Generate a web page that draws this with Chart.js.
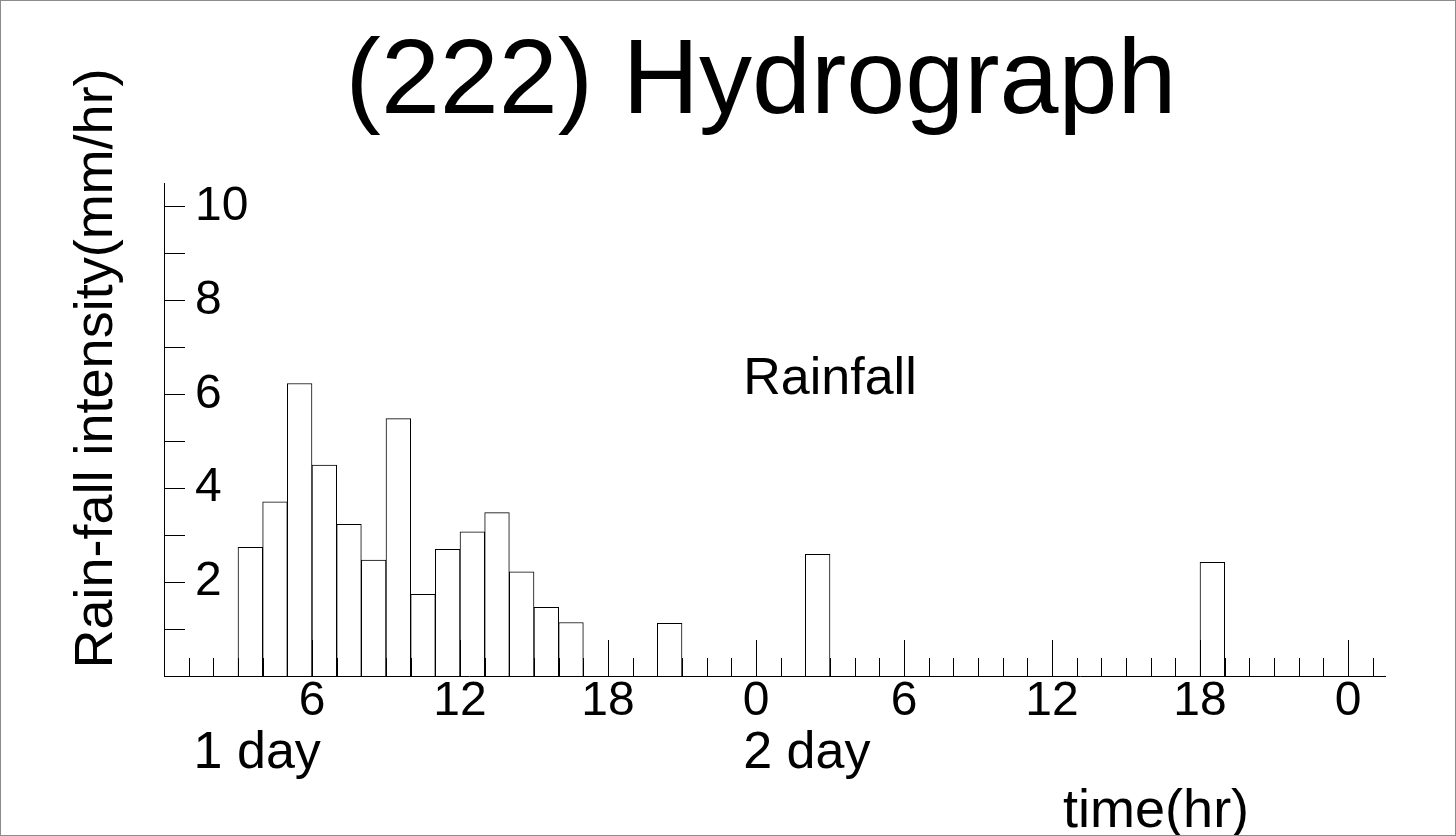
<!DOCTYPE html>
<html>
<head>
<meta charset="utf-8">
<title>(222) Hydrograph</title>
<script src="https://cdn.jsdelivr.net/npm/chart.js@4/dist/chart.umd.min.js"></script>
<style>
    html, body { margin: 0; padding: 0; background: #fff; }
    #wrap { width: 1456px; height: 836px; border: 1px solid #8c8c8c; box-sizing: border-box; }
</style>
</head>
<body>
<div id="wrap"><canvas id="hydro"></canvas></div>
<script>
// hour (from 0h of day 1) at which each rain bar starts, and its intensity
const rainHours = [3, 4, 5, 6, 7, 8, 9, 10, 11, 12, 13, 14, 15, 16, 20, 26, 42];
const rainfall = [2.74, 3.71, 6.23, 4.49, 3.23, 2.47, 5.48, 1.74, 2.70, 3.07, 3.48, 2.22, 1.46, 1.14, 1.12, 2.59, 2.42];

// labels under the x axis every 6 hours (0h of day 1 has none)
const hourLabels = ['', '6', '12', '18', '0', '6', '12', '18', '0'];
const yTickLabels = ['', '2', '4', '6', '8', '10'];
const dayLabels = ['1 day', '2 day'];

const FONT = "'Liberation Sans', Arial, Helvetica, sans-serif";

// tick marks point into the plot and the loose texts sit round it
const marksPlugin = {
    id: 'marks',
    afterDraw(chart) {
        const { ctx, chartArea, scales: { x, y } } = chart;
        ctx.save();
        ctx.strokeStyle = '#000';
        ctx.lineWidth = 1;
        ctx.beginPath();
        for (let h = 1; h <= 49; h++) {
            const px = Math.round(x.getPixelForValue(h)) + 0.5;
            const len = h % 6 === 0 ? 36 : 18;
            ctx.moveTo(px, chartArea.bottom);
            ctx.lineTo(px, chartArea.bottom - len);
        }
        for (let v = 1; v <= 10; v++) {
            const py = Math.round(y.getPixelForValue(v)) + 0.5;
            ctx.moveTo(chartArea.left, py);
            ctx.lineTo(chartArea.left + 21, py);
        }
        ctx.stroke();

        ctx.fillStyle = '#000';
        ctx.textBaseline = 'alphabetic';

        // title
        ctx.font = '106px ' + FONT;
        ctx.textAlign = 'center';
        ctx.fillText('(222) Hydrograph', 760, 112);

        // series name inside the plot
        ctx.font = '52px ' + FONT;
        ctx.fillText('Rainfall', x.getPixelForValue(27), y.getPixelForValue(6));

        // day markers and axis title under the axis
        ctx.textAlign = 'left';
        ctx.fillText(dayLabels[0], x.getPixelForValue(1.2), chartArea.bottom + 92);
        ctx.fillText(dayLabels[1], x.getPixelForValue(23.48), chartArea.bottom + 92);
        ctx.font = '54px ' + FONT;
        ctx.fillText('time(hr)', x.getPixelForValue(36.45), chartArea.bottom + 151);

        // y axis title
        ctx.translate(111, y.getPixelForValue(6.55));
        ctx.rotate(-Math.PI / 2);
        ctx.textAlign = 'center';
        ctx.fillText('Rain-fall intensity(mm/hr)', 0, 0);
        ctx.restore();
    }
};

const ctx = document.getElementById('hydro').getContext('2d');
const hydroChart = new Chart(ctx, {
    type: 'bar',
    data: {
        datasets: [{
            label: 'Rainfall',
            data: rainHours.map((h, i) => ({ x: h + 0.5, y: rainfall[i] })),
            backgroundColor: '#fff',
            borderColor: '#000',
            borderWidth: 1,
            barPercentage: 1,
            categoryPercentage: 1
        }]
    },
    plugins: [marksPlugin],
    options: {
        responsive: true,
        maintainAspectRatio: false,
        animation: false,
        layout: { padding: { top: 182, right: 70, left: 0, bottom: 0 } },
        plugins: {
            legend: { display: false },
            title: { display: false },
            tooltip: { enabled: false }
        },
        scales: {
            x: {
                type: 'linear',
                min: 0,
                max: 49.5,
                offset: false,
                grid: { display: false },
                border: { display: true, color: '#000', width: 1 },
                ticks: {
                    stepSize: 6,
                    includeBounds: false,
                    autoSkip: false,
                    maxRotation: 0,
                    padding: -11,
                    color: '#000',
                    font: { family: FONT, size: 48 },
                    callback: (v, i) => hourLabels[i] ?? ''
                },
                afterFit: (scale) => { scale.height = 159; }
            },
            y: {
                min: 0,
                max: 10.5,
                grid: { display: false, drawTicks: false },
                border: { display: true, color: '#000', width: 1 },
                ticks: {
                    stepSize: 2,
                    includeBounds: false,
                    mirror: true,
                    padding: 31,
                    color: '#000',
                    font: { family: FONT, size: 48 },
                    callback: (v, i) => yTickLabels[i] ?? ''
                },
                afterFit: (scale) => { scale.width = 163; }
            }
        }
    }
});
</script>
</body>
</html>
